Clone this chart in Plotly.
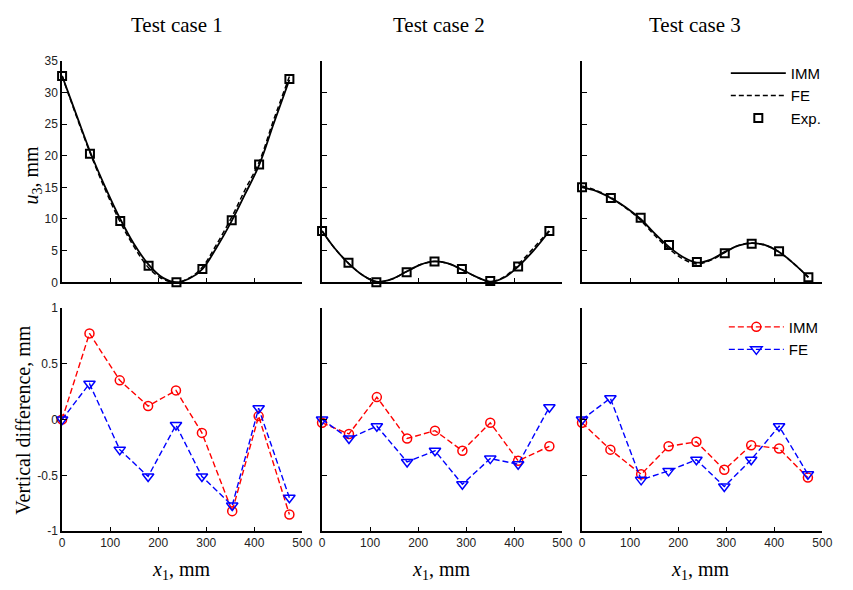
import plotly.graph_objects as go

# ---------------- data ----------------
titles = ["Test case 1", "Test case 2", "Test case 3"]

# experimental points (x positions and u3 values)
exp_x = [
    [0, 58, 121, 180, 238, 292, 353, 410, 473],
    [0, 55, 113, 176, 234, 291, 350, 408, 473],
    [0, 60, 122, 181, 239, 297, 353, 410, 471],
]
exp_u3 = [
    [32.6, 20.3, 9.7, 2.6, 0.0, 2.1, 9.8, 18.6, 32.1],
    [8.1, 3.1, 0.0, 1.6, 3.3, 2.1, 0.2, 2.5, 8.1],
    [15.0, 13.3, 10.2, 5.9, 3.2, 4.6, 6.1, 4.9, 0.8],
]

# model curves
curve_x = [
    [0, 30, 60, 90, 121, 150, 180, 210, 238, 265, 292, 320, 353, 380, 410, 440, 473],
    [0, 25, 55, 85, 113, 145, 176, 205, 234, 262, 291, 320, 350, 380, 408, 440, 473],
    [0, 30, 60, 90, 122, 150, 181, 210, 239, 268, 297, 325, 353, 380, 410, 440, 471],
]
imm_u3 = [
    [32.6, 26.4, 20.3, 15.0, 10.0, 6.0, 2.8, 0.7, 0.0, 0.6, 2.1, 5.3, 9.7, 13.8, 18.5, 25.0, 32.0],
    [8.1, 5.5, 3.0, 1.1, 0.1, 0.5, 1.7, 2.8, 3.3, 3.0, 2.0, 0.9, 0.1, 0.8, 2.5, 5.0, 8.1],
    [15.0, 14.4, 13.3, 11.9, 10.0, 7.8, 5.6, 4.0, 3.1, 3.6, 4.8, 5.8, 6.2, 5.9, 4.8, 3.0, 0.8],
]
fe_u3 = [
    [32.6, 26.2, 20.1, 14.6, 9.5, 5.6, 2.3, 0.5, 0.0, 0.7, 2.4, 5.8, 10.3, 14.5, 19.0, 25.6, 32.5],
    [8.1, 5.5, 3.0, 1.1, 0.1, 0.5, 1.7, 2.8, 3.3, 3.0, 2.0, 0.9, 0.1, 0.9, 2.8, 5.4, 8.2],
    [15.2, 14.5, 13.4, 11.8, 9.8, 7.5, 5.3, 3.7, 2.9, 3.5, 4.7, 5.8, 6.2, 5.9, 4.8, 3.0, 0.8],
]

# vertical differences
diff_x = [
    [0, 57, 120, 179, 237, 291, 354, 409, 473],
    [0, 56, 114, 177, 235, 292, 350, 408, 473],
    [0, 59, 123, 180, 238, 296, 352, 410, 470],
]
imm_diff = [
    [0.0, 0.77, 0.35, 0.12, 0.26, -0.12, -0.82, 0.03, -0.85],
    [-0.03, -0.13, 0.20, -0.17, -0.10, -0.28, -0.03, -0.37, -0.24],
    [-0.03, -0.27, -0.49, -0.24, -0.20, -0.45, -0.23, -0.26, -0.52],
]
fe_diff = [
    [0.0, 0.32, -0.27, -0.51, -0.05, -0.51, -0.77, 0.10, -0.70],
    [0.0, -0.17, -0.06, -0.38, -0.28, -0.58, -0.35, -0.40, 0.11],
    [0.0, 0.19, -0.54, -0.46, -0.36, -0.60, -0.36, -0.06, -0.49],
]

x_ticks = [0, 100, 200, 300, 400, 500]
top_ticks = [0, 5, 10, 15, 20, 25, 30, 35]
bot_ticks = [-1, -0.5, 0, 0.5, 1]
bot_ticktext = ["-1", "-0.5", "0", "0.5", "1"]

# ---------------- layout geometry ----------------
W, H = 853, 590
cols_px = [(60, 304), (324, 568), (588, 832)]
title_cx = [177, 443, 703]
xlab_cx = [181, 445, 708]
top_px = (55, 282)
bot_px = (308, 537)

fig = go.Figure()

serif = "Liberation Serif"
sans = "Liberation Sans"

layout = dict(
    width=W, height=H, margin=dict(l=0, r=0, t=0, b=0),
    paper_bgcolor="white", plot_bgcolor="white",
    showlegend=True,
)

def dom_x(c):
    return [cols_px[c][0] / W, cols_px[c][1] / W]

def dom_y(p):
    return [1 - p[1] / H, 1 - p[0] / H]

axis_common = dict(
    showline=True, linecolor="black", linewidth=1.5,
    ticks="inside", ticklen=5, tickwidth=1.2, tickcolor="black",
    showgrid=False, zeroline=False, mirror=False,
    tickfont=dict(family=sans, size=12, color="#222"),
)

for c in range(3):
    ti = c + 1
    bi = c + 4
    xa_t = "xaxis" if ti == 1 else f"xaxis{ti}"
    ya_t = "yaxis" if ti == 1 else f"yaxis{ti}"
    xa_b = f"xaxis{bi}"
    ya_b = f"yaxis{bi}"
    xr = "x" if ti == 1 else f"x{ti}"
    yr = "y" if ti == 1 else f"y{ti}"
    layout[xa_t] = dict(axis_common, domain=dom_x(c), range=[0, 500], tickvals=x_ticks,
                        showticklabels=False, anchor=yr)
    layout[ya_t] = dict(axis_common, domain=dom_y(top_px), range=[0, 35], tickvals=top_ticks,
                        showticklabels=(c == 0), anchor=xr)
    layout[xa_b] = dict(axis_common, domain=dom_x(c), range=[0, 500], tickvals=x_ticks,
                        showticklabels=True, anchor=f"y{bi}")
    layout[ya_b] = dict(axis_common, domain=dom_y(bot_px), range=[-1, 1], tickvals=bot_ticks,
                        ticktext=bot_ticktext, showticklabels=(c == 0), anchor=f"x{bi}")

    show = (c == 2)
    fig.add_trace(go.Scatter(x=curve_x[c], y=imm_u3[c], mode="lines", name="IMM",
                             line=dict(color="black", width=1.8, shape="spline"),
                             xaxis=xr, yaxis=yr, showlegend=show, legend="legend"))
    fig.add_trace(go.Scatter(x=curve_x[c], y=fe_u3[c], mode="lines", name="FE",
                             line=dict(color="black", width=1.5, dash="5px,3px", shape="spline"),
                             xaxis=xr, yaxis=yr, showlegend=show, legend="legend"))
    fig.add_trace(go.Scatter(x=exp_x[c], y=exp_u3[c], mode="markers", name="Exp.",
                             marker=dict(symbol="square-open", size=8, color="black",
                                         line=dict(width=2, color="black")),
                             xaxis=xr, yaxis=yr, showlegend=show, legend="legend",
                             cliponaxis=False))
    fig.add_trace(go.Scatter(x=diff_x[c], y=imm_diff[c], mode="lines+markers", name="IMM",
                             line=dict(color="#ff0000", width=1.4, dash="6px,3px"),
                             marker=dict(symbol="circle-open", size=9, color="#ff0000",
                                         line=dict(width=1.5, color="#ff0000")),
                             xaxis=f"x{bi}", yaxis=f"y{bi}", showlegend=show, legend="legend2",
                             cliponaxis=False))
    fig.add_trace(go.Scatter(x=diff_x[c], y=fe_diff[c], mode="lines+markers", name="FE",
                             line=dict(color="#0000ff", width=1.4, dash="6px,3px"),
                             marker=dict(symbol="triangle-down-open", size=10, color="#0000ff",
                                         line=dict(width=1.5, color="#0000ff")),
                             xaxis=f"x{bi}", yaxis=f"y{bi}", showlegend=show, legend="legend2",
                             cliponaxis=False))

legend_style = dict(
    xanchor="left", yanchor="top", bgcolor="rgba(0,0,0,0)",
    font=dict(family=sans, size=15, color="black"),
    itemwidth=55, tracegroupgap=0,
)
layout["legend"] = dict(legend_style, x=734 / W, y=1 - 51 / H)
layout["legend2"] = dict(legend_style, x=732 / W, y=1 - 311 / H)

annotations = []
for c in range(3):
    annotations.append(dict(text=titles[c], x=title_cx[c] / W, y=1 - 18 / H,
                            xref="paper", yref="paper",
                            showarrow=False, font=dict(family=serif, size=21, color="black"),
                            xanchor="center", yanchor="middle"))
    annotations.append(dict(text="<i>x</i><sub>1</sub>, mm", x=xlab_cx[c] / W, y=1 - 577 / H,
                            xref="paper", yref="paper", showarrow=False,
                            font=dict(family=serif, size=20, color="black"),
                            xanchor="center", yanchor="middle"))
annotations.append(dict(text="<i>u</i><sub>3</sub>, mm", x=30 / W, y=1 - 172 / H,
                        xref="paper", yref="paper", showarrow=False, textangle=-90,
                        font=dict(family=serif, size=20, color="black"),
                        xanchor="center", yanchor="middle"))
annotations.append(dict(text="Vertical difference, mm", x=20 / W, y=1 - 423 / H,
                        xref="paper", yref="paper", showarrow=False, textangle=-90,
                        font=dict(family=serif, size=20, color="black"),
                        xanchor="center", yanchor="middle"))
layout["annotations"] = annotations

fig.update_layout(**layout)
fig.write_html("out.html", config={"displayModeBar": False},
               post_script="document.body.style.margin='0';document.body.style.overflow='hidden';")
